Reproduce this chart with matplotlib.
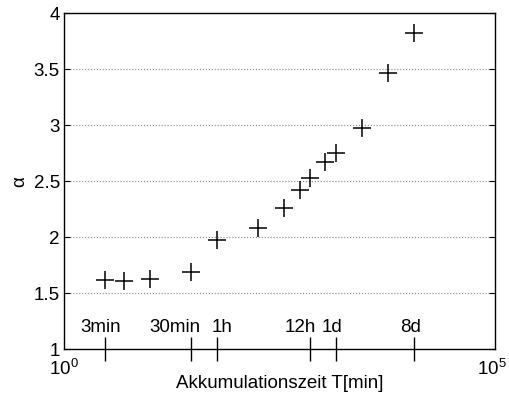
import numpy as np
import matplotlib
matplotlib.use('Agg')
import matplotlib.pyplot as plt
from matplotlib.ticker import FixedLocator, NullFormatter

plt.rcParams['font.family'] = ['Liberation Sans', 'DejaVu Sans']

# accumulation time in minutes and fitted alpha
t_min = [3, 5, 10, 30, 60, 180, 360, 540, 720, 1080, 1440, 2880, 5760, 11520]
alpha = [1.616, 1.604, 1.622, 1.690, 1.976, 2.083, 2.256, 2.42, 2.524,
         2.667, 2.747, 2.973, 3.464, 3.819]

mark_t = [3, 30, 60, 720, 1440, 11520]
mark_names = ['3min', '30min', '1h', '12h', '1d', '8d']
mark_text_x = [1.53, 9.9, 52, 366, 984, 7900]

decades = [1, 1e5]
decade_labels = [r'$\mathregular{10^0}$', r'$\mathregular{10^5}$']

fs = 13.5

fig = plt.figure(figsize=(5.09, 4.02), dpi=100)
ax = fig.add_axes([0.1257, 0.1294, 0.8468, 0.8358])

ax.plot(t_min, alpha, '+', color='k', markersize=13.5, markeredgewidth=1.1)

ax.set_xscale('log')
ax.set_xlim(1, 1e5)
ax.set_ylim(1, 4)

ax.xaxis.set_major_locator(FixedLocator(decades))
ax.xaxis.set_major_formatter(NullFormatter())
ax.xaxis.set_minor_locator(FixedLocator(mark_t))
ax.xaxis.set_minor_formatter(NullFormatter())
ax.tick_params(axis='x', which='major', length=0)
ax.tick_params(axis='x', which='minor', direction='inout', length=17,
               width=1.0, top=False)

# decade labels under the axis, the right one nudged in from the edge
for x, lab, dx in zip(decades, decade_labels, [0, -2]):
    ax.annotate(lab, xy=(x, 0), xycoords=('data', 'axes fraction'),
                xytext=(dx, -6.5), textcoords='offset points',
                ha='center', va='top', fontsize=fs)

ax.set_yticks(np.arange(1, 4.01, 0.5))
ax.set_yticklabels(['1', '1.5', '2', '2.5', '3', '3.5', '4'])
ax.tick_params(axis='y', direction='in', length=4, labelsize=fs, right=True, pad=3)
ax.grid(axis='y', linestyle=':', color='#888888', linewidth=0.8)

for x, name in zip(mark_text_x, mark_names):
    ax.text(x, 1.205, name, fontsize=fs, ha='left', va='center')

for s in ax.spines.values():
    s.set_linewidth(1.0)

ax.set_xlabel('Akkumulationszeit T[min]', fontsize=fs)
ax.xaxis.set_label_coords(0.5, -0.074)
ax.set_ylabel('α', fontsize=fs)
ax.yaxis.set_label_coords(-0.082, 0.5)

fig.savefig('out.png', dpi=100)
